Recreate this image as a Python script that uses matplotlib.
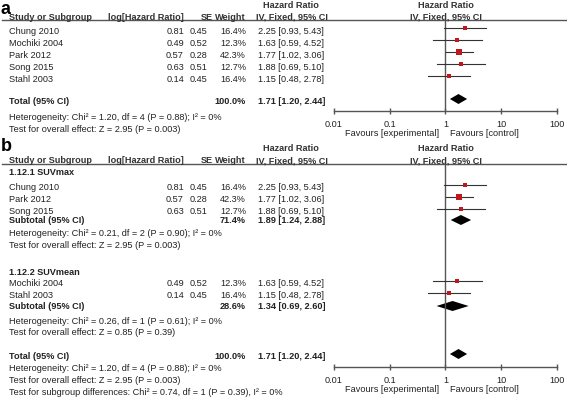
import numpy as np
import matplotlib
matplotlib.use("Agg")
import matplotlib.pyplot as plt

plt.rcParams['font.family'] = ['Liberation Sans', 'DejaVu Sans']

# study level data
studies = ["Chung 2010", "Mochiki 2004", "Park 2012", "Song 2015", "Stahl 2003"]
log_hr = [0.81, 0.49, 0.57, 0.63, 0.14]
se = [0.45, 0.52, 0.28, 0.51, 0.45]
weight = [16.4, 12.3, 42.3, 12.7, 16.4]
hr = [2.25, 1.63, 1.77, 1.88, 1.15]
hr_lo = [0.93, 0.59, 1.02, 0.69, 0.48]
hr_hi = [5.43, 4.52, 3.06, 5.10, 2.78]

# pooled
total = (1.71, 1.20, 2.44)
total_weight = 100.0
total_het = "Heterogeneity: Chi² = 1.20, df = 4 (P = 0.88); I² = 0%"
total_z = "Test for overall effect: Z = 2.95 (P = 0.003)"

# subgroups
sub_names = ["1.12.1 SUVmax", "1.12.2 SUVmean"]
sub_members = [["Chung 2010", "Park 2012", "Song 2015"], ["Mochiki 2004", "Stahl 2003"]]
sub_weight = [71.4, 28.6]
sub_pooled = [(1.89, 1.24, 2.88), (1.34, 0.69, 2.60)]
sub_het = ["Heterogeneity: Chi² = 0.21, df = 2 (P = 0.90); I² = 0%",
           "Heterogeneity: Chi² = 0.26, df = 1 (P = 0.61); I² = 0%"]
sub_z = ["Test for overall effect: Z = 2.95 (P = 0.003)",
         "Test for overall effect: Z = 0.85 (P = 0.39)"]
sub_diff = "Test for subgroup differences: Chi² = 0.74, df = 1 (P = 0.39), I² = 0%"

ticks = [0.01, 0.1, 1, 10, 100]
tick_labels = ["0.01", "0.1", "1", "10", "100"]

W, H = 567, 402
FS = 6.6
TXT = "#222222"
GRAY = "#555555"
RED = "#c0161d"

fig = plt.figure(figsize=(W / 100, H / 100), dpi=100)
bg = fig.add_axes([0, 0, 1, 1])
bg.set_xlim(0, W)
bg.set_ylim(H, 0)
bg.axis("off")

X_NAME, X_LOG, X_SE, X_W, X_HR = 9, 184, 207, 246, 258


def txt(x, y, s, ha="left", bold=False, size=FS, color=TXT):
    bg.text(x, y, s, ha=ha, va="center", fontsize=size,
            fontweight="bold" if bold else "normal", color=color)


def ci_str(v):
    return f"{v[0]:.2f} [{v[1]:.2f}, {v[2]:.2f}]"


def header(y_top, label, y_label):
    # panel letter, placed by its baseline
    bg.text(0.5, y_label, label, ha="left", va="baseline", fontsize=13,
            fontweight="bold", color="black")
    txt(291, y_top, "Hazard Ratio", ha="center", bold=True, color="#333333")
    txt(292, y_top + 12, "IV, Fixed, 95% CI", ha="center", bold=True, color="#333333")
    txt(446, y_top, "Hazard Ratio", ha="center", bold=True, color="#333333")
    txt(446, y_top + 12, "IV, Fixed, 95% CI", ha="center", bold=True, color="#333333")
    txt(X_NAME, y_top + 12, "Study or Subgroup", bold=True, color="#333333")
    txt(X_LOG, y_top + 12, "log[Hazard Ratio]", ha="right", bold=True, color="#333333")
    txt(213, y_top + 12, "SE", ha="right", bold=True, color="#333333")
    txt(X_W, y_top + 12, "Weight", ha="right", bold=True, color="#333333")
    bg.plot([2, W], [y_top + 16, y_top + 16], color=GRAY, lw=1.0)


def study_row(y, i):
    txt(X_NAME, y, studies[i])
    txt(X_LOG, y, f"{log_hr[i]:.2f}", ha="right")
    txt(X_SE, y, f"{se[i]:.2f}", ha="right")
    txt(X_W, y, f"{weight[i]:.1f}%", ha="right")
    txt(X_HR, y, ci_str((hr[i], hr_lo[i], hr_hi[i])))


def forest_axes(y_top, y_axis):
    ax = fig.add_axes([334 / W, 1 - y_axis / H, (557 - 334) / W, (y_axis - y_top) / H])
    ax.set_xscale("log")
    ax.set_xlim(0.01, 100)
    ax.set_ylim(y_axis, y_top)
    ax.patch.set_alpha(0)
    for s in ["top", "left", "right"]:
        ax.spines[s].set_visible(False)
    ax.spines["bottom"].set_color(GRAY)
    ax.spines["bottom"].set_linewidth(1.0)
    ax.set_yticks([])
    ax.set_xticks(ticks)
    ax.set_xticklabels(tick_labels)
    ax.minorticks_off()
    ax.tick_params(axis="x", direction="inout", length=5, width=1.0, color=GRAY,
                   labelsize=FS, labelcolor=TXT, pad=3)
    ax.axvline(1, color=GRAY, lw=1.0)
    y_fav = y_axis + 22
    txt(439, y_fav, "Favours [experimental]", ha="right")
    txt(450, y_fav, "Favours [control]")
    return ax


def draw_study(ax, y, i):
    ax.plot([hr_lo[i], hr_hi[i]], [y, y], color="#333333", lw=0.8)
    ax.plot(hr[i], y, marker="s", color=RED, ms=5.0 * np.sqrt(weight[i] / 42.3), mew=0)


def draw_diamond(ax, y, v):
    est, lo, hi = v
    ax.fill([lo, est, hi, est], [y, y - 5, y, y + 5], color="black", lw=0)


# ---- panel a
header(5, "a", 13.5)
ax_a = forest_axes(21, 112)
rows_a = [31, 43, 55, 67, 79]
for i, y in enumerate(rows_a):
    study_row(y, i)
    draw_study(ax_a, y - 2, i)
txt(X_NAME, 102, "Total (95% CI)", bold=True)
txt(X_W, 102, f"{total_weight:.1f}%", ha="right", bold=True)
txt(X_HR, 102, ci_str(total), bold=True)
draw_diamond(ax_a, 100, total)
txt(X_NAME, 118, total_het)
txt(X_NAME, 130, total_z)

# ---- panel b
header(149, "b", 151)
ax_b = forest_axes(165, 368)
sub_layout = [(173, [188, 200, 212], 221, 234, 246),
              (273, [284, 296], 307, 322, 333)]
for g, (y_lab, ys, y_sub, y_het, y_z) in enumerate(sub_layout):
    txt(X_NAME, y_lab, sub_names[g], bold=True)
    for name, y in zip(sub_members[g], ys):
        i = studies.index(name)
        study_row(y, i)
        draw_study(ax_b, y - 2, i)
    txt(X_NAME, y_sub, "Subtotal (95% CI)", bold=True)
    txt(X_W, y_sub, f"{sub_weight[g]:.1f}%", ha="right", bold=True)
    txt(X_HR, y_sub, ci_str(sub_pooled[g]), bold=True)
    draw_diamond(ax_b, y_sub, sub_pooled[g])
    txt(X_NAME, y_het, sub_het[g])
    txt(X_NAME, y_z, sub_z[g])

txt(X_NAME, 357, "Total (95% CI)", bold=True)
txt(X_W, 357, f"{total_weight:.1f}%", ha="right", bold=True)
txt(X_HR, 357, ci_str(total), bold=True)
draw_diamond(ax_b, 355, total)
txt(X_NAME, 369, total_het)
txt(X_NAME, 381, total_z)
txt(X_NAME, 393, sub_diff)

fig.savefig("out.png", dpi=100)
